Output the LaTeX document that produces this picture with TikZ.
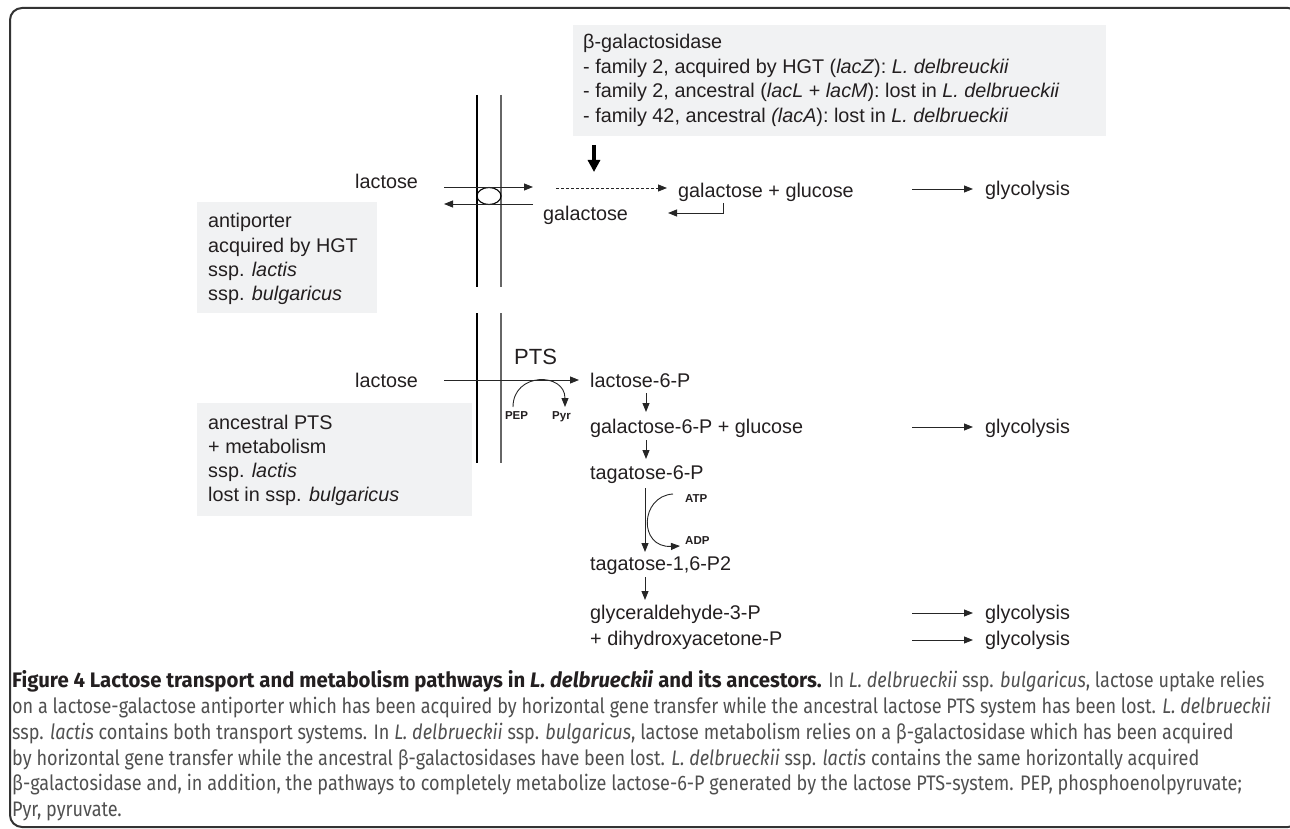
\documentclass[tikz,border=0pt]{standalone}
\usepackage{fontspec}
\setmainfont{Liberation Sans}
\newfontfamily\capfont[FakeStretch=0.86]{Fira Sans}
\newfontfamily\capbf[FakeStretch=0.97]{Fira Sans}
\usetikzlibrary{arrows.meta,shapes.geometric}
\definecolor{txt}{HTML}{231F20}
\definecolor{boxfill}{HTML}{F1F2F3}
\definecolor{captxt}{HTML}{505050}
\definecolor{framecol}{HTML}{333333}
\begin{document}
\begin{tikzpicture}[x=1pt,y=-1pt,
  lbl/.style={anchor=base west, inner sep=0pt, text=txt, font=\fontsize{19.8}{24}\selectfont},
  small/.style={anchor=base, inner sep=0pt, text=txt, font=\fontsize{11.5}{13}\selectfont\bfseries},
  capline/.style={anchor=base west, inner sep=0pt, text=captxt, font=\capfont\fontsize{21}{24}\selectfont},
  arr/.style={draw=black!85, line width=0.9pt, -{Triangle[length=9pt,width=7pt]}},
  infobox/.style={fill=boxfill, draw=none},
  membrane/.style={line width=1.1pt},
]
\useasboundingbox (0,0) rectangle (1290,829);
% frame
\begin{scope}
\clip (0,0) rectangle (1290,829);
\draw[framecol, line width=2pt, rounded corners=12pt] (10,8) rectangle (1300,827);
\end{scope}

% info boxes
\fill[infobox] (573,25) rectangle (1106,136);
\fill[infobox] (197,202) rectangle (377,313);
\fill[infobox] (197,403) rectangle (472,516);

\node[lbl] (b1) at (583,49) {β-galactosidase};
\node[lbl] (b2) at (583,74) {- family 2, acquired by HGT (\textit{lacZ}): \textit{L. delbreuckii}};
\node[lbl] (b3) at (583,98) {- family 2, ancestral (\textit{lacL} + \textit{lacM}): lost in \textit{L. delbrueckii}};
\node[lbl] (b4) at (583,123) {- family 42, ancestral \textit{(lacA}): lost in \textit{L. delbrueckii}};

\node[lbl] (a1) at (208,228) {antiporter};
\node[lbl] (a2) at (208,252) {acquired by HGT};
\node[lbl] (a3) at (208,276) {ssp. \textit{lactis}};
\node[lbl] (a4) at (208,300) {ssp. \textit{bulgaricus}};

\node[lbl] (p1) at (208,429) {ancestral PTS};
\node[lbl] (p2) at (208,453) {+ metabolism};
\node[lbl] (p3) at (208,477) {ssp. \textit{lactis}};
\node[lbl] (p4) at (208,501) {lost in ssp. \textit{bulgaricus}};

% membrane
\coordinate (m1t) at (477,95); \coordinate (m1b) at (477,287);
\coordinate (m2t) at (501,95); \coordinate (m2b) at (501,287);
\coordinate (m3t) at (477,313); \coordinate (m3b) at (477,463);
\coordinate (m4t) at (501,313); \coordinate (m4b) at (501,463);
\draw[membrane] (m1t) -- (m1b);
\draw[membrane, black!60] (m2t) -- (m2b);
\draw[membrane] (m3t) -- (m3b);
\draw[membrane, black!60] (m4t) -- (m4b);

% antiporter
\node[draw, ellipse, line width=1.1pt, minimum width=24pt, minimum height=17pt, inner sep=0pt] (porter) at (489,196) {};
\node[lbl] (lac1) at (355,189) {lactose};
\node[lbl] (gal1) at (543,221) {galactose};
\node[lbl] (galglu) at (678,197) {galactose + glucose};
\node[lbl] (gly1) at (985,196) {glycolysis};

\coordinate (u1) at (444,187); \coordinate (u2) at (533,187);
\coordinate (d1) at (533,204); \coordinate (d2) at (444,204);
\draw[arr] (u1) -- (u2);
\draw[arr] (d1) -- (d2);
\coordinate (ds1) at (556,188); \coordinate (ds2) at (667,188);
\draw[arr, dash pattern=on 3pt off 2pt] (ds1) -- (ds2);
\coordinate (e1) at (723,203); \coordinate (e2) at (723,213); \coordinate (e3) at (668,213);
\draw[arr] (e1) -- (e2) -- (e3);
\coordinate (g1a) at (912,189); \coordinate (g1b) at (973,189);
\draw[arr] (g1a) -- (g1b);
% thick arrow
\coordinate (t1) at (594,145); \coordinate (t2) at (594,172);
\draw[line width=3.5pt, black, -{Triangle[length=12pt,width=12pt]}] (t1) -- (t2);

% PTS
\node[anchor=base west, inner sep=0pt, text=txt, font=\fontsize{22}{26}\selectfont] (pts) at (514,364) {PTS};
\node[lbl] (lac2) at (355,387) {lactose};
\node[lbl] (l6p) at (590,387) {lactose-6-P};
\coordinate (pa1) at (444,380); \coordinate (pa2) at (579,380);
\draw[arr] (pa1) -- (pa2);
\node[small] (pep) at (516.5,419) {PEP};
\node[small] (pyr) at (561.5,419) {Pyr};
\coordinate (arcs) at (513,407); \coordinate (arce) at (565,407);
\draw[arr] (arcs) .. controls (513,372) and (565,372) .. (arce);

\node[lbl] (g6p) at (590,433) {galactose-6-P + glucose};
\node[lbl] (gly2) at (985,433) {glycolysis};
\node[lbl] (t6p) at (590,479) {tagatose-6-P};
\node[lbl] (t16) at (590,570) {tagatose-1,6-P2};
\node[lbl] (gap) at (590,619) {glyceraldehyde-3-P};
\node[lbl] (dhap) at (590,645) {+ dihydroxyacetone-P};
\node[lbl] (gly3) at (985,619) {glycolysis};
\node[lbl] (gly4) at (985,645) {glycolysis};

\coordinate (v1a) at (646,393); \coordinate (v1b) at (646,412);
\coordinate (v2a) at (646,440); \coordinate (v2b) at (646,459);
\coordinate (v3a) at (645,488); \coordinate (v3b) at (645,552);
\coordinate (v4a) at (645,577); \coordinate (v4b) at (645,600);
\draw[arr] (v1a) -- (v1b);
\draw[arr] (v2a) -- (v2b);
\draw[arr] (v3a) -- (v3b);
\draw[arr] (v4a) -- (v4b);

\coordinate (g2a) at (912,427); \coordinate (g2b) at (973,427);
\coordinate (g3a) at (912,613); \coordinate (g3b) at (973,613);
\coordinate (g4a) at (912,640); \coordinate (g4b) at (973,640);
\draw[arr] (g2a) -- (g2b);
\draw[arr] (g3a) -- (g3b);
\draw[arr] (g4a) -- (g4b);

\node[small, anchor=base west] (atp) at (685,502) {ATP};
\node[small, anchor=base west] (adp) at (685,544) {ADP};
\coordinate (ks) at (673,494); \coordinate (ke) at (680,546);
\draw[arr] (ks) .. controls (640,496) and (638,548) .. (ke);

% caption
\node[capline] (c1) at (12,687) {{\capbf\fontsize{21}{24}\selectfont\color{txt}\bfseries Figure 4 Lactose transport and metabolism pathways in \textit{L. delbrueckii} and its ancestors.} In \textit{L. delbrueckii} ssp. \textit{bulgaricus}, lactose uptake relies};
\node[capline] (c2) at (12,713) {on a lactose-galactose antiporter which has been acquired by horizontal gene transfer while the ancestral lactose PTS system has been lost. \textit{L. delbrueckii}};
\node[capline] (c3) at (12,739) {ssp. \textit{lactis} contains both transport systems. In \textit{L. delbrueckii} ssp. \textit{bulgaricus}, lactose metabolism relies on a β-galactosidase which has been acquired};
\node[capline] (c4) at (12,765) {by horizontal gene transfer while the ancestral β-galactosidases have been lost. \textit{L. delbrueckii} ssp. \textit{lactis} contains the same horizontally acquired};
\node[capline] (c5) at (12,790) {β-galactosidase and, in addition, the pathways to completely metabolize lactose-6-P generated by the lactose PTS-system. PEP, phosphoenolpyruvate;};
\node[capline] (c6) at (12,816) {Pyr, pyruvate.};
\end{tikzpicture}
\end{document}
